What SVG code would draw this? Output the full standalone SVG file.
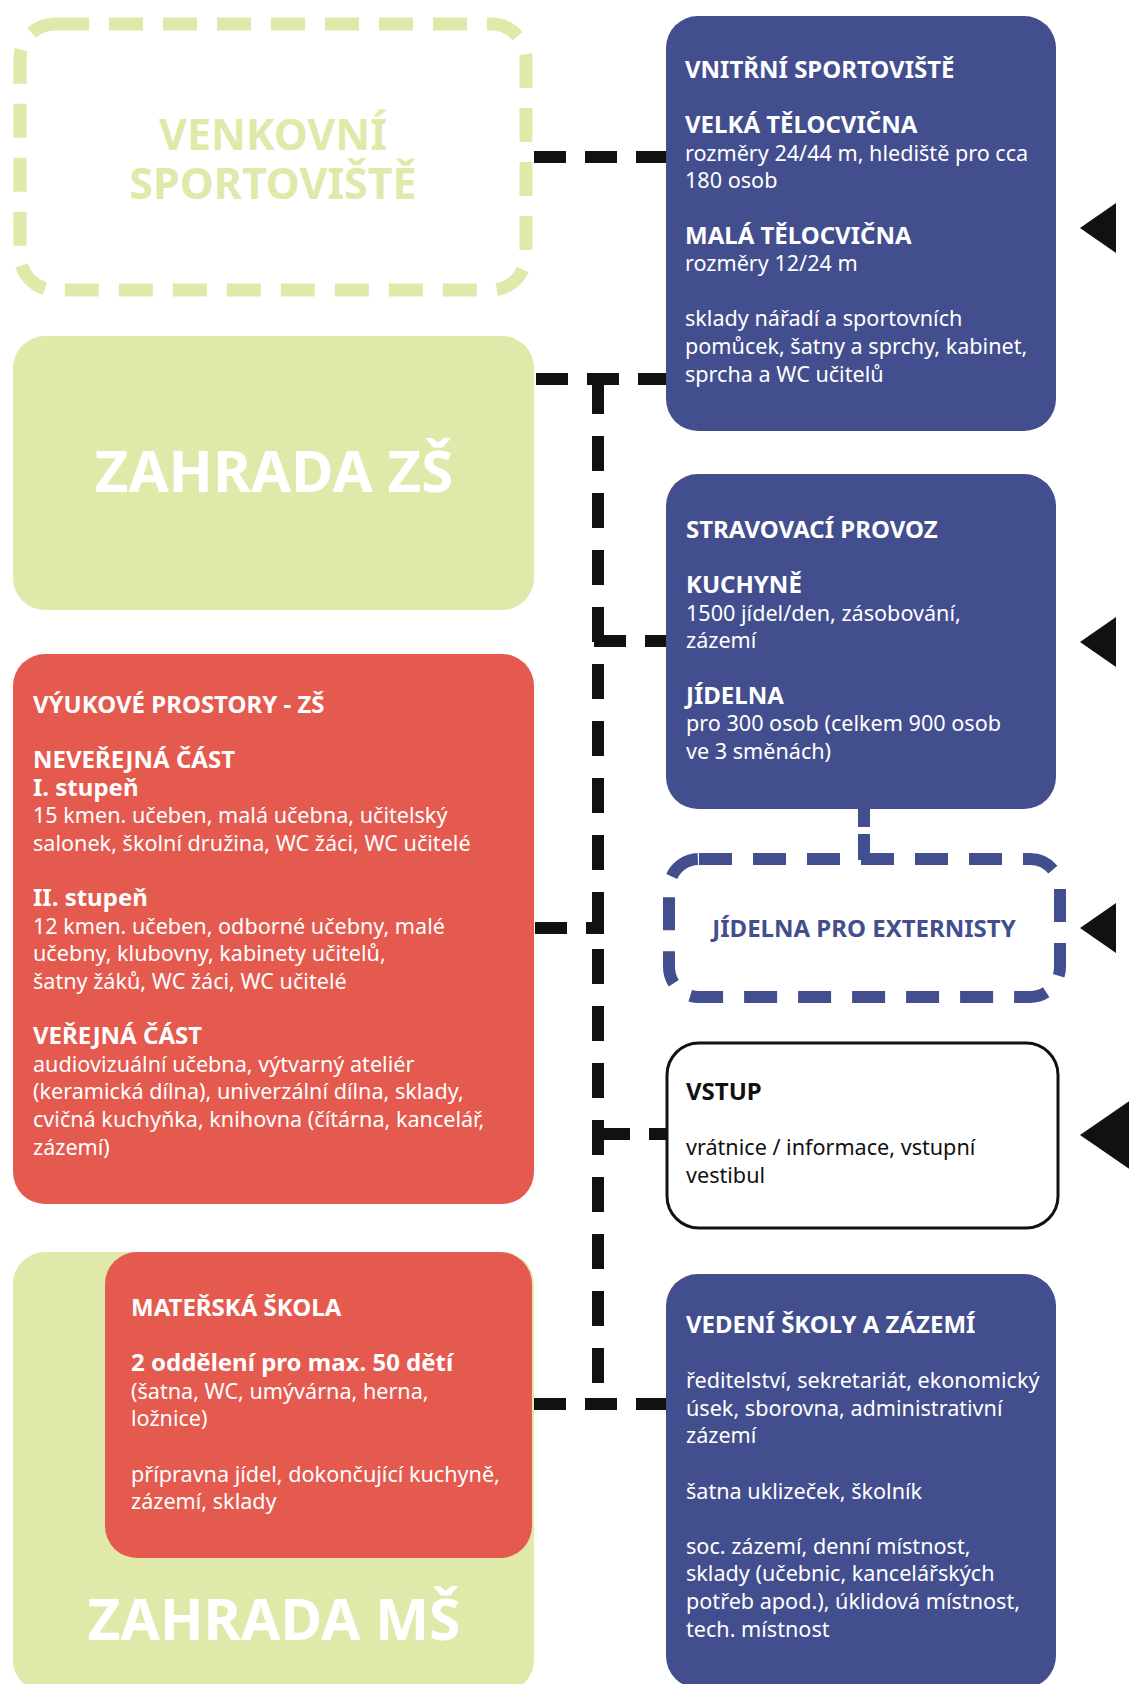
<svg xmlns="http://www.w3.org/2000/svg" width="1129" height="1684" viewBox="0 0 1129 1684">
<style>
text{font-family:"Noto Sans","DejaVu Sans",sans-serif}
.b{font-weight:bold;font-size:24px}
.r{font-size:21.6px}
.w{fill:#ffffff}
.k{fill:#111111}
.big{font-weight:bold;text-anchor:middle}
.blue{fill:#434e8e}
.red{fill:#e55a4f}
.green{fill:#e0e9aa}
.con{fill:none;stroke:#111111;stroke-width:12;stroke-dasharray:32 19}
.arr{fill:#111111}
</style>
<rect width="1129" height="1684" fill="#ffffff"/>
<g id="venkovni">
<rect x="20" y="24" width="506" height="266" rx="35" fill="none" stroke="#e0e9aa" stroke-width="13" stroke-dasharray="34 20"/>
<text class="big" x="273" y="150" font-size="43" fill="#e0e9aa">VENKOVNÍ</text>
<text class="big" x="273" y="199" font-size="43" fill="#e0e9aa">SPORTOVIŠTĚ</text>
</g>
<g id="zahrada-zs">
<rect class="green" x="13" y="336" width="521" height="274" rx="32"/>
<text class="big w" x="274" y="492" font-size="58">ZAHRADA ZŠ</text>
</g>
<g id="vyukove">
<rect class="red" x="13" y="654" width="521" height="550" rx="32"/>
<text class="w" x="33">
<tspan class="b" x="33" y="713">VÝUKOVÉ PROSTORY - ZŠ</tspan>
<tspan class="b" x="33" y="768.2">NEVEŘEJNÁ ČÁST</tspan>
<tspan class="b" x="33" y="795.8">I. stupeň</tspan>
<tspan class="r" x="33" y="823.4">15 kmen. učeben, malá učebna, učitelský</tspan>
<tspan class="r" x="33" y="851">salonek, školní družina, WC žáci, WC učitelé</tspan>
<tspan class="b" x="33" y="906.2">II. stupeň</tspan>
<tspan class="r" x="33" y="933.8">12 kmen. učeben, odborné učebny, malé</tspan>
<tspan class="r" x="33" y="961.4">učebny, klubovny, kabinety učitelů,</tspan>
<tspan class="r" x="33" y="989">šatny žáků, WC žáci, WC učitelé</tspan>
<tspan class="b" x="33" y="1044.2">VEŘEJNÁ ČÁST</tspan>
<tspan class="r" x="33" y="1071.8">audiovizuální učebna, výtvarný ateliér</tspan>
<tspan class="r" x="33" y="1099.4">(keramická dílna), univerzální dílna, sklady,</tspan>
<tspan class="r" x="33" y="1127">cvičná kuchyňka, knihovna (čítárna, kancelář,</tspan>
<tspan class="r" x="33" y="1154.6">zázemí)</tspan>
</text>
</g>
<g id="zahrada-ms">
<rect class="green" x="13" y="1252" width="521" height="440" rx="32"/>
<text class="big w" x="274" y="1640" font-size="57">ZAHRADA MŠ</text>
</g>
<g id="materska">
<rect class="red" x="105" y="1252" width="427" height="306" rx="32"/>
<text class="w">
<tspan class="b" x="131" y="1316">MATEŘSKÁ ŠKOLA</tspan>
<tspan class="b" x="131" y="1371.2">2 oddělení pro max. 50 dětí</tspan>
<tspan class="r" x="131" y="1398.8">(šatna, WC, umývárna, herna,</tspan>
<tspan class="r" x="131" y="1426.4">ložnice)</tspan>
<tspan class="r" x="131" y="1481.6">přípravna jídel, dokončující kuchyně,</tspan>
<tspan class="r" x="131" y="1509.2">zázemí, sklady</tspan>
</text>
</g>
<g id="vnitrni">
<rect class="blue" x="666" y="16" width="390" height="415" rx="32"/>
<text class="w">
<tspan class="b" x="685" y="78">VNITŘNÍ SPORTOVIŠTĚ</tspan>
<tspan class="b" x="685" y="133.2">VELKÁ TĚLOCVIČNA</tspan>
<tspan class="r" x="685" y="160.8">rozměry 24/44 m, hlediště pro cca</tspan>
<tspan class="r" x="685" y="188.4">180 osob</tspan>
<tspan class="b" x="685" y="243.6">MALÁ TĚLOCVIČNA</tspan>
<tspan class="r" x="685" y="271.2">rozměry 12/24 m</tspan>
<tspan class="r" x="685" y="326.4">sklady nářadí a sportovních</tspan>
<tspan class="r" x="685" y="354">pomůcek, šatny a sprchy, kabinet,</tspan>
<tspan class="r" x="685" y="381.6">sprcha a WC učitelů</tspan>
</text>
</g>
<g id="stravovaci">
<rect class="blue" x="666" y="474" width="390" height="335" rx="32"/>
<text class="w">
<tspan class="b" x="686" y="538">STRAVOVACÍ PROVOZ</tspan>
<tspan class="b" x="686" y="593.2">KUCHYNĚ</tspan>
<tspan class="r" x="686" y="620.8">1500 jídel/den, zásobování,</tspan>
<tspan class="r" x="686" y="648.4">zázemí</tspan>
<tspan class="b" x="686" y="703.6">JÍDELNA</tspan>
<tspan class="r" x="686" y="731.2">pro 300 osob (celkem 900 osob</tspan>
<tspan class="r" x="686" y="758.8">ve 3 směnách)</tspan>
</text>
</g>
<g id="jidelna-externisty">
<rect x="669" y="859" width="391" height="138" rx="30" fill="none" stroke="#434e8e" stroke-width="12" stroke-dasharray="33 21"/>
<text class="b" x="864" y="937" text-anchor="middle" fill="#434e8e">JÍDELNA PRO EXTERNISTY</text>
</g>
<g id="vstup">
<rect x="667" y="1043" width="391" height="185" rx="32" fill="#ffffff" stroke="#111111" stroke-width="3"/>
<text class="k">
<tspan class="b" x="686" y="1100">VSTUP</tspan>
<tspan class="r" x="686" y="1155.2">vrátnice / informace, vstupní</tspan>
<tspan class="r" x="686" y="1182.8">vestibul</tspan>
</text>
</g>
<g id="vedeni">
<rect class="blue" x="666" y="1274" width="390" height="414" rx="32"/>
<text class="w">
<tspan class="b" x="686" y="1333">VEDENÍ ŠKOLY A ZÁZEMÍ</tspan>
<tspan class="r" x="686" y="1388.2">ředitelství, sekretariát, ekonomický</tspan>
<tspan class="r" x="686" y="1415.8">úsek, sborovna, administrativní</tspan>
<tspan class="r" x="686" y="1443.4">zázemí</tspan>
<tspan class="r" x="686" y="1498.6">šatna uklizeček, školník</tspan>
<tspan class="r" x="686" y="1553.8">soc. zázemí, denní místnost,</tspan>
<tspan class="r" x="686" y="1581.4">sklady (učebnic, kancelářských</tspan>
<tspan class="r" x="686" y="1609">potřeb apod.), úklidová místnost,</tspan>
<tspan class="r" x="686" y="1636.6">tech. místnost</tspan>
</text>
</g>
<g id="connectors">
<path class="con" d="M534 157H666"/>
<path class="con" d="M536 379H666"/>
<path class="con" d="M598 379V1410" style="stroke-dasharray:35 22"/>
<path class="con" d="M594 641H666"/>
<path class="con" d="M535 928H604"/>
<path class="con" d="M598 1134H666"/>
<path class="con" d="M534 1404H666"/>
<path d="M864 809V827M864 834V860" fill="none" stroke="#434e8e" stroke-width="12"/>
<polygon class="arr" points="1080,228 1116,203 1116,253"/>
<polygon class="arr" points="1080,642 1116,617 1116,667"/>
<polygon class="arr" points="1080,928 1116,903 1116,953"/>
<polygon class="arr" points="1080,1135 1135,1097 1135,1173"/>
</g>
</svg>
